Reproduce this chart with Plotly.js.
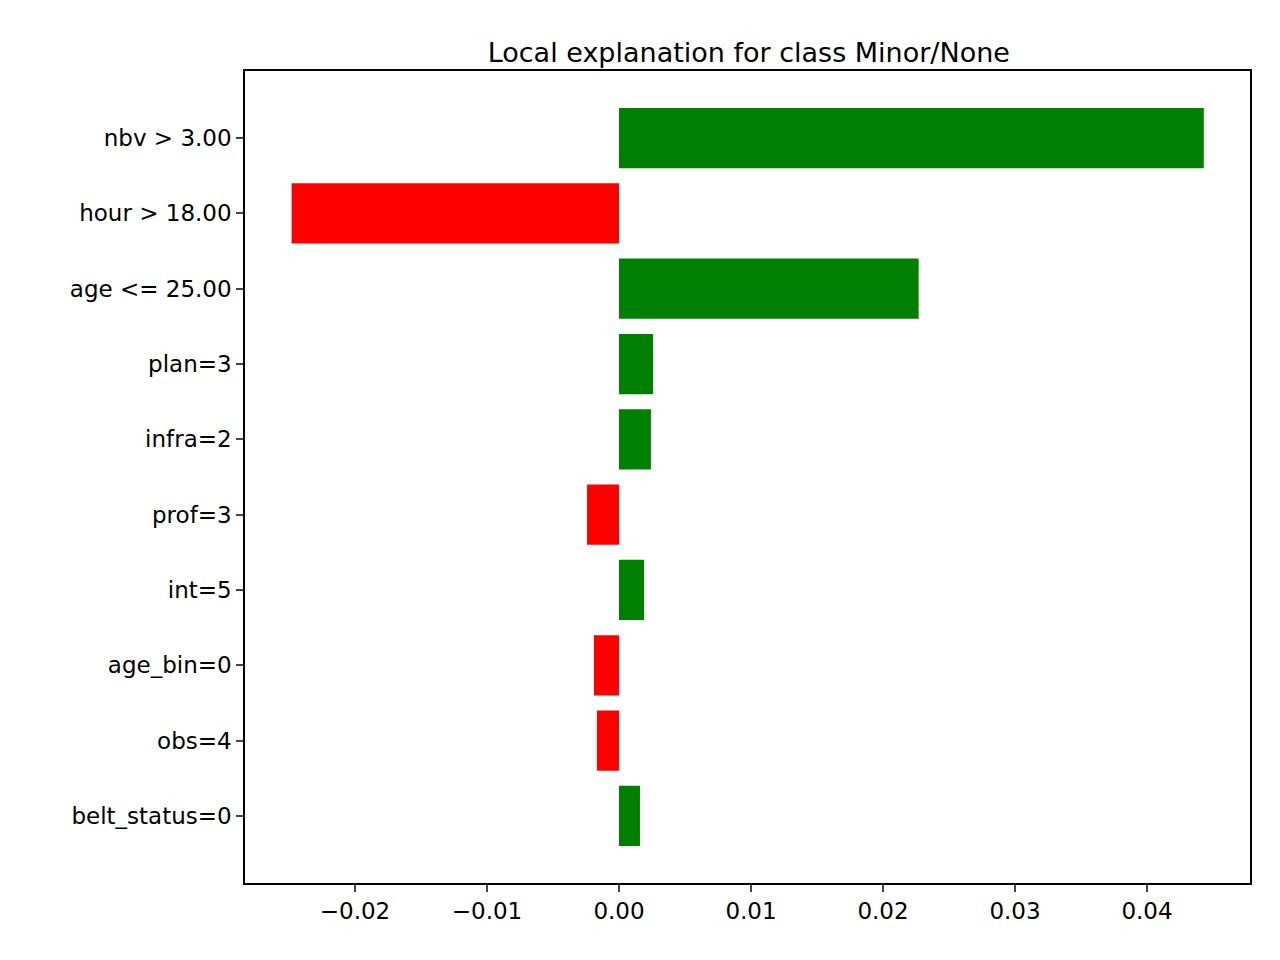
<!DOCTYPE html>
<html>
<head>
<script src="https://cdn.plot.ly/plotly-3.0.1.min.js"></script>
<style>body{margin:0}</style>
</head>
<body>
<div id="chart" style="width:1280px;height:960px"></div>
<script>
// features top to bottom, as in the picture
const features = ["nbv > 3.00", "hour > 18.00", "age <= 25.00", "plan=3", "infra=2",
                  "prof=3", "int=5", "age_bin=0", "obs=4", "belt_status=0"];
const weights = [0.0443, -0.0248, 0.0227, 0.00258, 0.00242,
                 -0.00242, 0.0019, -0.0019, -0.00167, 0.00159];
const tickVals = [-0.02, -0.01, 0.00, 0.01, 0.02, 0.03, 0.04];
const tickText = ["\u22120.02", "\u22120.01", "0.00", "0.01", "0.02", "0.03", "0.04"];

const colors = weights.map(w => w > 0 ? "green" : "red");

Plotly.newPlot("chart", [{
    type: "bar",
    orientation: "h",
    x: weights,
    y: features,
    width: 0.8,
    marker: {color: colors},
    hoverinfo: "x+y"
}], {
    width: 1280, height: 960,
    margin: {l: 245, r: 30, t: 71, b: 77},
    paper_bgcolor: "white", plot_bgcolor: "white",
    font: {family: "DejaVu Sans", size: 23, color: "black"},
    title: {text: "Local explanation for class Minor/None", font: {size: 27}, x: 0.585, xanchor: "center", y: 0.955},
    showlegend: false,
    xaxis: {
        range: [-0.02833, 0.0478],
        tickvals: tickVals, ticktext: tickText,
        ticks: "outside", ticklen: 7, tickwidth: 1.5,
        showgrid: false, zeroline: false,
        showline: true, linecolor: "black", linewidth: 1.5, mirror: true
    },
    yaxis: {
        type: "category",
        categoryorder: "array", categoryarray: features,
        range: [9.89, -0.89],
        ticks: "outside", ticklen: 7, tickwidth: 1.5,
        showgrid: false, zeroline: false,
        showline: true, linecolor: "black", linewidth: 1.5, mirror: true
    }
}, {displayModeBar: false});
</script>
</body>
</html>
